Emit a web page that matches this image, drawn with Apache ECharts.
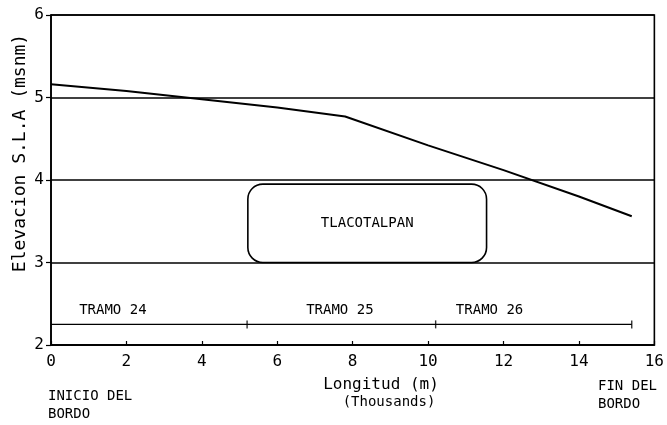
<!DOCTYPE html>
<html>
<head>
<meta charset="utf-8">
<script src="https://cdn.jsdelivr.net/npm/echarts@6/dist/echarts.min.js"></script>
<style>
  html, body { margin: 0; padding: 0; background: #fff; }
  #chart { width: 667px; height: 425px; }
</style>
</head>
<body>
<div id="chart"></div>
<script>
// Levee crest profile (distance in thousands of metres, elevation in m a.s.l.)
const distancia = [0, 2, 4, 6, 7.8, 10, 12, 14, 15.4];
const elevacion = [5.16, 5.08, 4.98, 4.88, 4.77, 4.42, 4.12, 3.80, 3.56];

// Reach divisions along the levee
const tramoNivel = 2.25;
const tramoLimites = [0, 5.2, 10.2, 15.4];
const tramoMarcas = [5.2, 10.2, 15.4];
const tramoNombres = ['TRAMO 24', 'TRAMO 25', 'TRAMO 26'];
const tramoEtiquetaX = [1.64, 7.66, 11.63];
const tramoEtiquetaY = 2.42;

// Town label box: [x0, y0, x1, y1]
const poblacion = 'TLACOTALPAN';
const poblacionCaja = [5.22, 3.0, 11.55, 3.95];

const xTicks = [0, 2, 4, 6, 8, 10, 12, 14, 16];
const yTicks = [2, 3, 4, 5, 6];

const mono = '"DejaVu Sans Mono", monospace';
const ink = '#000';

const chart = echarts.init(document.getElementById('chart'));
chart.setOption({
  animation: false,
  backgroundColor: '#fff',
  grid: {
    left: 51, right: 12, top: 15, bottom: 80,
    show: true, borderColor: ink, borderWidth: 1.6, backgroundColor: 'transparent'
  },
  xAxis: {
    type: 'value',
    min: xTicks[0], max: xTicks[xTicks.length - 1], interval: 2,
    axisLine: { show: true, onZero: false, lineStyle: { color: ink, width: 1.6 } },
    axisTick: { show: true, inside: true, length: 4, lineStyle: { color: ink, width: 1.2 } },
    splitLine: { show: false },
    axisLabel: { color: ink, fontSize: 16, fontFamily: mono, margin: 9 }
  },
  yAxis: {
    type: 'value',
    min: yTicks[0], max: yTicks[yTicks.length - 1], interval: 1,
    axisLine: { show: true, lineStyle: { color: ink, width: 1.6 } },
    axisTick: { show: true, length: 5, lineStyle: { color: ink, width: 1.2 } },
    splitLine: { show: true, lineStyle: { color: ink, width: 1.6 } },
    axisLabel: { color: ink, fontSize: 16, fontFamily: mono, margin: 7 }
  },
  graphic: [
    {
      type: 'text', x: 20, y: 153, rotation: Math.PI / 2,
      style: {
        text: 'Elevacion S.L.A (msnm)', font: '18px ' + mono, fill: ink,
        align: 'center', verticalAlign: 'middle'
      }
    },
    {
      type: 'text', x: 381, y: 385,
      style: { text: 'Longitud (m)', font: '16px ' + mono, fill: ink, align: 'center', verticalAlign: 'middle' }
    },
    {
      type: 'text', x: 389, y: 402,
      style: { text: '(Thousands)', font: '14px ' + mono, fill: ink, align: 'center', verticalAlign: 'middle' }
    },
    {
      type: 'text', left: 48, top: 387,
      style: { text: 'INICIO DEL\nBORDO', font: '14px ' + mono, fill: ink, lineHeight: 18 }
    },
    {
      type: 'text', left: 598, top: 377,
      style: { text: 'FIN DEL\nBORDO', font: '14px ' + mono, fill: ink, lineHeight: 18 }
    }
  ],
  series: [
    {
      type: 'line',
      data: distancia.map((d, i) => [d, elevacion[i]]),
      showSymbol: false,
      lineStyle: { color: ink, width: 2 },
      z: 5
    },
    {
      type: 'line',
      data: [[tramoLimites[0], tramoNivel], [tramoLimites[tramoLimites.length - 1], tramoNivel]],
      showSymbol: false,
      lineStyle: { color: ink, width: 1.4 }
    },
    {
      type: 'scatter',
      data: tramoMarcas.map(x => [x, tramoNivel]),
      symbol: 'rect',
      symbolSize: [1.4, 8],
      itemStyle: { color: ink }
    },
    {
      type: 'custom',
      data: tramoNombres.map((n, i) => [tramoEtiquetaX[i], tramoEtiquetaY, i]),
      renderItem: function (params, api) {
        const p = api.coord([api.value(0), api.value(1)]);
        return {
          type: 'text',
          style: {
            text: tramoNombres[api.value(2)], x: p[0], y: p[1],
            align: 'center', verticalAlign: 'middle', font: '14px ' + mono, fill: ink
          }
        };
      }
    },
    {
      type: 'custom',
      data: [poblacionCaja],
      renderItem: function (params, api) {
        const p1 = api.coord([api.value(0), api.value(3)]);
        const p2 = api.coord([api.value(2), api.value(1)]);
        return {
          type: 'group',
          children: [
            {
              type: 'rect',
              shape: { x: p1[0], y: p1[1], width: p2[0] - p1[0], height: p2[1] - p1[1], r: 15 },
              style: { fill: '#fff', stroke: ink, lineWidth: 1.6 }
            },
            {
              type: 'text',
              style: {
                text: poblacion, x: (p1[0] + p2[0]) / 2, y: (p1[1] + p2[1]) / 2,
                align: 'center', verticalAlign: 'middle', font: '14px ' + mono, fill: ink
              }
            }
          ]
        };
      },
      z: 3
    }
  ]
});
</script>
</body>
</html>
